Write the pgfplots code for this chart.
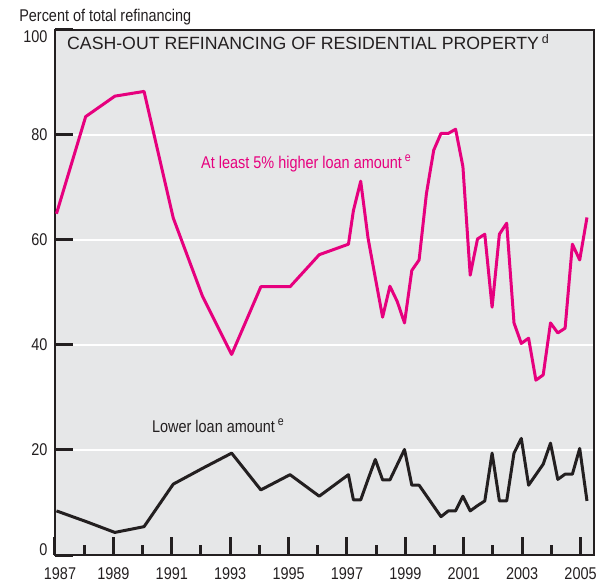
\documentclass[border=0pt]{standalone}
\usepackage{fontspec}
\setmainfont{Liberation Sans}[FakeStretch=0.85]
\newfontfamily\titlefont{Liberation Sans}
\usepackage{pgfplots}
\pgfplotsset{compat=1.18}
\usepackage{pgfplotstable}

\definecolor{bgray}{HTML}{E6E7E8}
\definecolor{pinkline}{HTML}{E6007E}
\definecolor{darkline}{HTML}{231F20}

\newcommand{\noteref}[1]{\raisebox{6.5bp}{\fontsize{12.5bp}{12.5bp}\selectfont #1}}

\pgfplotstableread{
x y
1987.05 65.0
1988.05 83.5
1989.05 87.4
1990.05 88.3
1991.05 64.2
1992.05 49.3
1993.05 38.2
1994.05 51.1
1995.05 51.1
1996.05 57.2
1997.05 59.2
1997.22 65.6
1997.47 71.2
1997.72 60.4
1997.97 52.8
1998.22 45.3
1998.47 51.2
1998.72 48.3
1998.97 44.2
1999.22 54.2
1999.47 56.2
1999.72 68.8
1999.97 77.1
2000.22 80.3
2000.47 80.3
2000.72 81.1
2000.97 74.0
2001.22 53.3
2001.47 60.2
2001.72 61.1
2001.97 47.2
2002.22 61.1
2002.47 63.2
2002.72 44.2
2002.97 40.3
2003.22 41.3
2003.47 33.3
2003.72 34.3
2003.97 44.2
2004.22 42.3
2004.47 43.2
2004.72 59.2
2004.97 56.2
2005.22 64.3
}\higherloan

\pgfplotstableread{
x y
1987.05 8.4
1988.05 6.4
1989.05 4.3
1990.05 5.4
1991.05 13.5
1992.05 16.5
1993.05 19.4
1994.05 12.4
1995.05 15.3
1996.05 11.2
1997.05 15.3
1997.22 10.5
1997.47 10.5
1997.72 14.4
1997.97 18.2
1998.22 14.3
1998.47 14.3
1998.72 17.2
1998.97 20.1
1999.22 13.3
1999.47 13.3
1999.72 11.3
1999.97 9.3
2000.22 7.3
2000.47 8.4
2000.72 8.4
2000.97 11.2
2001.22 8.4
2001.47 9.4
2001.72 10.3
2001.97 19.4
2002.22 10.3
2002.47 10.3
2002.72 19.4
2002.97 22.2
2003.22 13.3
2003.47 15.3
2003.72 17.3
2003.97 21.3
2004.22 14.4
2004.47 15.4
2004.72 15.4
2004.97 20.3
2005.22 10.3
}\lowerloan

\begin{document}
\begin{tikzpicture}
\begin{axis}[
  scale only axis, width=539bp, height=525bp,
  xmin=1987, xmax=2005.46, ymin=0, ymax=100,
  clip=false,
  axis background/.style={fill=bgray},
  axis line style={line width=2.5bp, darkline},
  xtick={1987,1989,...,2005},
  xticklabels={\hspace*{10bp}1987,1989,1991,1993,1995,1997,1999,2001,2003,2005},
  minor xtick={1988,1990,...,2004},
  ytick={0,20,...,100},
  yticklabel={\ifcase\ticknum\raisebox{10bp}{0}\or 20\or 40\or 60\or 80\or\raisebox{-13bp}[0pt][0pt]{100}\fi},
  xtick pos=lower, ytick pos=left,
  tick align=inside,
  major tick length=18bp, minor tick length=10bp,
  every tick/.style={line width=3bp, darkline},
  ymajorgrids,
  major grid style={white, line width=2bp},
  every tick label/.append style={font=\fontsize{17bp}{20bp}\selectfont, text=darkline},
  xticklabel style={yshift=-9bp},
  yticklabel style={xshift=-4bp},
]
\addplot[pinkline, line width=3bp, line join=round] table[x=x,y=y] {\higherloan};
\addplot[darkline, line width=3bp, line join=round] table[x=x,y=y] {\lowerloan};

\node[anchor=base west, font=\titlefont\fontsize{17.7bp}{20bp}\selectfont, text=darkline, inner sep=0pt]
  at (axis cs:1987.41,96.2) {CASH-OUT REFINANCING OF RESIDENTIAL PROPERTY\,\noteref{d}};
\node[anchor=base west, font=\fontsize{17bp}{20bp}\selectfont, text=darkline, inner sep=0pt]
  at (axis cs:1985.77,101.6) {Percent of total refinancing};
\node[anchor=base west, font=\fontsize{17bp}{20bp}\selectfont, text=pinkline, inner sep=0pt]
  at (axis cs:1992.0,73.7) {At least 5\% higher loan amount\,\noteref{e}};
\node[anchor=base west, font=\fontsize{17bp}{20bp}\selectfont, text=darkline, inner sep=0pt]
  at (axis cs:1990.32,23.4) {Lower loan amount\,\noteref{e}};
\end{axis}
\pgfresetboundingbox
\useasboundingbox ([shift={(-55bp,-29bp)}]current axis.south west) rectangle ++(607bp,584bp);
\end{tikzpicture}
\end{document}
